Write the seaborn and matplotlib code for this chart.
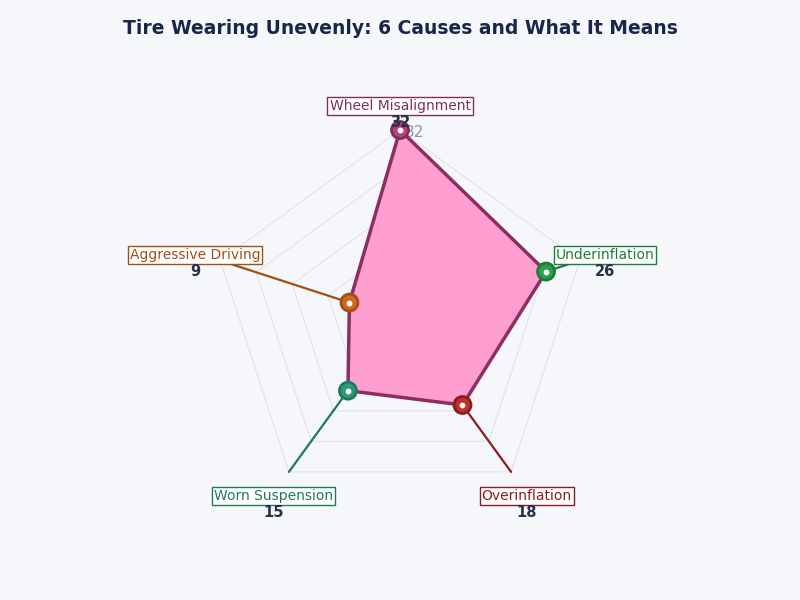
import numpy as np
import pandas as pd
import matplotlib
matplotlib.use("Agg")
import matplotlib.pyplot as plt
import seaborn as sns

# data
causes = ["Wheel Misalignment", "Underinflation", "Overinflation", "Worn Suspension", "Aggressive Driving"]
counts = [32, 26, 18, 15, 9]
marker_colors = ["#b2457c", "#2e9e52", "#c0302f", "#2f9a72", "#d2691e"]
label_colors = ["#7d2e5c", "#1e7b3a", "#8b1d1d", "#1f7a5a", "#a24e14"]
ring_max = 32
n_rings = 5

sns.set_theme(style="white")
plt.rcParams["font.family"] = ["DejaVu Sans"]

bg = "#f5f7fa"
fig = plt.figure(figsize=(8, 6), dpi=100, facecolor=bg)
ax = fig.add_axes([0, 0, 1, 1])
ax.set_facecolor(bg)

px = 189 / ring_max  # pixels per unit
ax.set_xlim(-400 / px, 400 / px)
ax.set_ylim((319 - 600) / px, 319 / px)
ax.set_axis_off()

n = len(causes)
ang = np.pi / 2 - np.arange(n) * 2 * np.pi / n

def xy(r, a):
    return r * np.cos(a), r * np.sin(a)

# grid rings and spokes
for k in range(1, n_rings + 1):
    r = ring_max * k / n_rings
    gx, gy = xy(r, np.append(ang, ang[0]))
    ax.plot(gx, gy, color="#dfe3e8", lw=0.8, zorder=1)
for a in ang:
    sx, sy = xy(np.array([0, ring_max]), a)
    ax.plot(sx, sy, color="#dfe3e8", lw=0.8, zorder=1)

# radial tick label
ax.text(2.4, ring_max - 0.35, "32", color="#8a93a0", fontsize=11, ha="center", va="center", zorder=2)

# filled polygon
vals = np.array(counts, dtype=float)
px_, py_ = xy(vals, ang)
ax.fill(px_, py_, color="#ff9fd0", zorder=3, lw=0)
df_line = pd.DataFrame({"x": np.append(px_, px_[0]), "y": np.append(py_, py_[0])})
sns.lineplot(data=df_line, x="x", y="y", sort=False, estimator=None, color="#8b2f62", lw=2.5, ax=ax, zorder=4)

# leader lines
for v, a, c in zip(vals, ang, label_colors):
    if v < ring_max:
        lx, ly = xy(np.array([v, ring_max]), a)
        ax.plot(lx, ly, color=c, lw=1.6, zorder=2)

# markers
df_pts = pd.DataFrame({"x": px_, "y": py_, "cause": causes})
sns.scatterplot(data=df_pts, x="x", y="y", hue="cause", palette=marker_colors, s=150,
                edgecolor=label_colors, linewidth=2, legend=False, ax=ax, zorder=5)
ax.scatter(px_, py_, s=10, color="white", zorder=6)

# labels
r_lab = 36.5
shift = 2.5 / px
for name, v, a, c in zip(causes, counts, ang, label_colors):
    tx, ty = xy(r_lab, a)
    ty -= shift
    ax.text(tx, ty, name, color=c, fontsize=10, ha="center", va="center", zorder=7,
            bbox=dict(boxstyle="square,pad=0.15", fc="white", ec=c, lw=1))
    ax.text(tx, ty - 17 / px, str(v), color="#27324a", fontsize=10.5, fontweight="bold",
            ha="center", va="center", zorder=7)

fig.text(0.5, 1 - 28 / 600, "Tire Wearing Unevenly: 6 Causes and What It Means",
         ha="center", va="center", fontsize=13.5, fontweight="bold", color="#17264a")

ax.set_xlabel("")
ax.set_ylabel("")
fig.savefig("out.png", dpi=100, facecolor=bg)
